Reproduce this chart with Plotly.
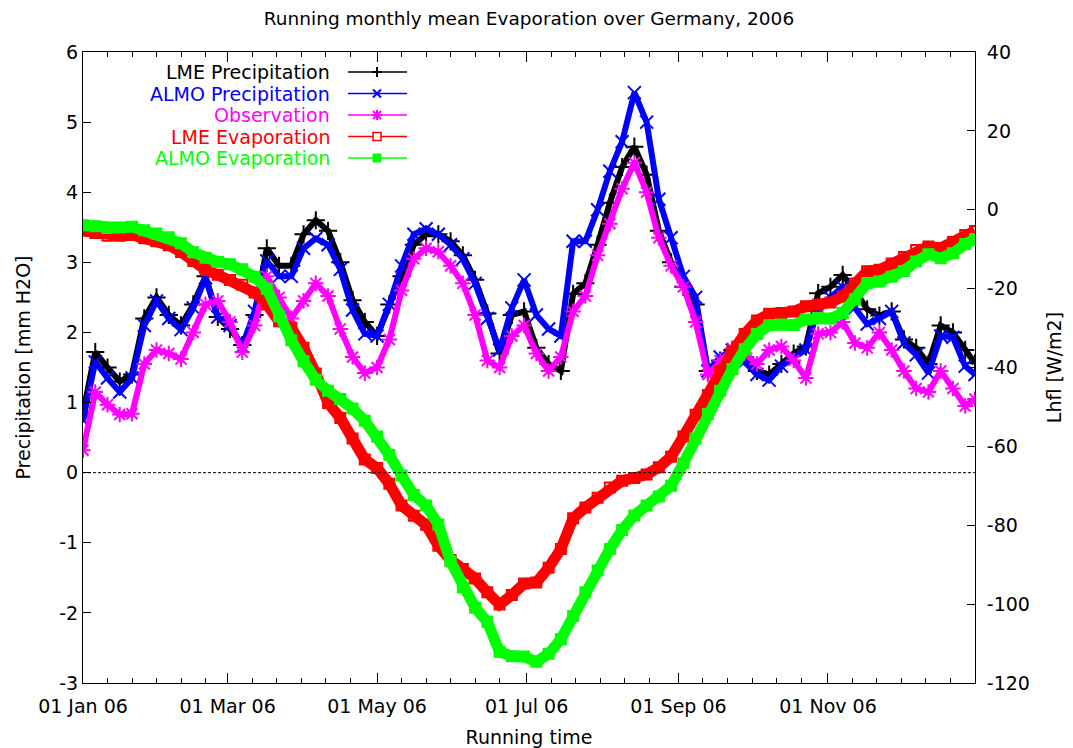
import pandas as pd
import plotly.graph_objects as go

# Running monthly means, sampled every 5 days from 01 Jan 2006 (last point 31 Dec)
day_offsets = list(range(0, 361, 5)) + [364]

# precipitation [mm H2O], left axis
lme_precip = [
    0.85, 1.72, 1.50, 1.30, 1.40, 2.20, 2.50, 2.25, 2.10, 2.40,
    2.80, 2.22, 2.05, 1.82, 2.25, 3.20, 2.95, 2.95, 3.40, 3.60,
    3.45, 3.00, 2.46, 2.15, 1.95, 2.40, 2.80, 3.25, 3.40, 3.40,
    3.30, 3.10, 2.75, 2.27, 1.70, 2.25, 2.30, 1.78, 1.55, 1.45,
    2.55, 2.70, 3.25, 3.85, 4.36, 4.65, 4.25, 3.45, 3.00, 2.65,
    2.40, 1.45, 1.60, 1.75, 1.65, 1.45, 1.40, 1.55, 1.70, 1.80,
    2.56, 2.65, 2.82, 2.60, 2.33, 2.24, 2.30, 1.90, 1.78, 1.55,
    2.10, 2.00, 1.75, 1.56,
]
almo_precip = [
    0.75, 1.58, 1.35, 1.15, 1.35, 2.10, 2.45, 2.20, 2.04, 2.35,
    2.78, 2.22, 2.10, 1.80, 2.30, 3.02, 2.80, 2.80, 3.20, 3.34,
    3.25, 2.90, 2.32, 1.98, 1.95, 2.40, 2.95, 3.40, 3.48, 3.40,
    3.25, 3.05, 2.70, 2.20, 1.75, 2.35, 2.75, 2.25, 2.05, 1.95,
    3.30, 3.30, 3.75, 4.30, 4.72, 5.42, 5.00, 3.90, 3.35, 2.80,
    2.50, 1.45, 1.65, 1.75, 1.58, 1.40, 1.32, 1.52, 1.65, 1.75,
    2.35, 2.50, 2.65, 2.35, 2.12, 2.20, 2.30, 1.85, 1.68, 1.42,
    1.95, 1.93, 1.52, 1.40,
]
observation = [
    0.32, 1.15, 0.97, 0.83, 0.84, 1.55, 1.75, 1.70, 1.62, 2.00,
    2.40, 2.45, 2.15, 1.72, 2.10, 2.80, 2.50, 2.20, 2.45, 2.70,
    2.52, 2.05, 1.65, 1.42, 1.50, 1.90, 2.60, 3.05, 3.20, 3.15,
    2.95, 2.70, 2.25, 1.60, 1.50, 1.95, 2.10, 1.70, 1.45, 1.65,
    2.30, 2.52, 3.10, 3.55, 4.05, 4.42, 4.00, 3.35, 2.95, 2.65,
    2.15, 1.40, 1.60, 1.77, 1.70, 1.55, 1.75, 1.80, 1.60, 1.35,
    1.98, 2.00, 2.15, 1.85, 1.78, 2.00, 1.75, 1.45, 1.20, 1.15,
    1.45, 1.20, 0.95, 1.05,
]

# latent heat flux [W/m2], right axis
lme_evap = [
    -5.3, -5.9, -6.6, -6.6, -6.4, -7.2, -8.0, -9.0, -10.7, -13.0,
    -15.2, -16.5, -17.8, -19.0, -21.0, -24.0, -28.3, -29.9, -35.0, -41.5,
    -49.0, -52.8, -58.0, -63.3, -65.5, -69.5, -75.0, -77.6, -79.9, -85.2,
    -88.8, -91.1, -93.5, -97.0, -100.1, -97.7, -94.8, -94.5, -90.8, -86.0,
    -78.2, -75.5, -73.0, -70.4, -68.7, -68.0, -67.1, -65.3, -62.6, -57.5,
    -52.0, -47.0, -41.0, -36.0, -31.5, -28.1, -26.4, -26.2, -25.8, -24.5,
    -24.0, -23.5, -22.0, -18.7, -15.6, -15.2, -13.6, -12.0, -10.2, -9.3,
    -9.7, -8.2, -6.4, -5.4,
]
almo_evap = [
    -3.9, -4.2, -4.6, -4.5, -4.3, -5.2, -6.0, -7.0, -8.5, -10.8,
    -12.2, -13.2, -13.8, -15.1, -17.0, -20.0, -27.0, -33.1, -38.4, -43.1,
    -45.9, -48.0, -50.4, -53.5, -57.5, -62.2, -67.4, -72.3, -75.0, -79.8,
    -89.2, -95.7, -100.9, -104.5, -112.1, -113.2, -113.3, -114.6, -112.6, -108.9,
    -103.0, -97.0, -91.5, -86.0, -81.2, -77.5, -75.0, -72.7, -70.0, -64.3,
    -58.0, -51.8, -45.9, -40.4, -35.4, -31.5, -29.3, -29.1, -29.2, -27.8,
    -27.4, -27.6, -26.2, -22.7, -18.6, -18.2, -17.0, -15.5, -13.1, -11.3,
    -12.3, -11.0, -8.7, -7.4,
]

left_ticks = [-3, -2, -1, 0, 1, 2, 3, 4, 5, 6]
right_ticks = [-120, -100, -80, -60, -40, -20, 0, 20, 40]

dates = pd.Timestamp("2006-01-01") + pd.to_timedelta(day_offsets, unit="D")

major_ticks = pd.date_range("2006-01-01", periods=6, freq="2MS")
minor_ticks = [m + pd.Timedelta(days=10 * k) for m in major_ticks for k in range(1, 6)]

FONT = "DejaVu Sans"

series = [
    # name, values, colour, marker symbol, axis, line width, marker size
    ("LME Precipitation", lme_precip, "#000000", "cross-thin", "y", 6, 13),
    ("ALMO Precipitation", almo_precip, "#0000ff", "x-thin", "y", 6, 13),
    ("Observation", observation, "#ff00ff", "asterisk", "y", 6, 13),
    ("LME Evaporation", lme_evap, "#ff0000", "square-open", "y2", 11, 10),
    ("ALMO Evaporation", almo_evap, "#00ff00", "square", "y2", 11, 10),
]

fig = go.Figure()
for name, vals, col, sym, ax, lw, ms in series:
    fig.add_trace(go.Scatter(
        x=dates, y=vals, name=name, yaxis=ax,
        mode="lines+markers",
        line=dict(color=col, width=lw),
        marker=dict(symbol=sym, size=ms, color=col, line=dict(color=col, width=2)),
        showlegend=False,
    ))

# the page body adds an 8px offset; plot box below is in page pixels
OFF = 8
W, H = 1073 - OFF, 748 - OFF
L, R, T, B = 83, 975, 52, 683

def px(x):
    return (x - L) / (R - L)

def py(y):
    return (B - y) / (B - T)

def glyph(kind, col, xa, ya):
    base = dict(xref="paper", yref="paper", xsizemode="pixel", ysizemode="pixel",
                xanchor=xa, yanchor=ya)
    ln = dict(color=col, width=2)
    out = []
    if kind in ("plus", "star"):
        out.append(dict(type="line", x0=-5, x1=5, y0=0, y1=0, line=ln, **base))
        out.append(dict(type="line", x0=0, x1=0, y0=-5, y1=5, line=ln, **base))
    if kind in ("x", "star"):
        out.append(dict(type="line", x0=-4, x1=4, y0=-4, y1=4, line=ln, **base))
        out.append(dict(type="line", x0=-4, x1=4, y0=4, y1=-4, line=ln, **base))
    if kind == "sq_open":
        out.append(dict(type="rect", x0=-4, x1=4, y0=-4, y1=4, line=dict(color=col, width=1.5),
                        fillcolor="white", **base))
    if kind == "sq_fill":
        out.append(dict(type="rect", x0=-4, x1=4, y0=-4, y1=4, line=dict(color=col, width=1),
                        fillcolor=col, **base))
    return out

key_kinds = ["plus", "x", "star", "sq_open", "sq_fill"]
key_rows = [72, 93.5, 115, 136.5, 158]

shapes = [dict(type="line", xref="paper", x0=0, x1=1, yref="y", y0=0, y1=0,
               line=dict(color="#000000", width=1, dash="3px,2px"))]
annotations = []
for (name, _, col, _, _, _, _), kind, ry in zip(series, key_kinds, key_rows):
    annotations.append(dict(text=name, xref="paper", yref="paper", x=px(332), y=py(ry),
                            xanchor="right", yanchor="middle", showarrow=False,
                            font=dict(family=FONT, size=19, color=col)))
    shapes.append(dict(type="line", xref="paper", yref="paper", x0=px(348), x1=px(407),
                       y0=py(ry), y1=py(ry), line=dict(color=col, width=1.5)))
    shapes += glyph(kind, col, px(377), py(ry))

axis_common = dict(
    showline=True, linecolor="#000000", linewidth=1,
    ticks="inside", tickcolor="#000000", tickwidth=1,
    showgrid=False, zeroline=False, automargin=False,
    tickfont=dict(family=FONT, size=19, color="#000000"),
)

fig.update_layout(
    width=W, height=H,
    margin=dict(l=L - OFF, r=W - (R - OFF), t=T - OFF, b=H - (B - OFF)),
    paper_bgcolor="white", plot_bgcolor="white",
    title=dict(text="Running monthly mean Evaporation over Germany, 2006",
               x=0.5, xref="paper", xanchor="center",
               y=1 - (19 - OFF) / H, yref="container", yanchor="middle",
               font=dict(family=FONT, size=18.5, color="#000000")),
    xaxis=dict(
        type="date", range=["2006-01-01", "2006-12-31"],
        tickmode="array", tickvals=major_ticks, tickformat="%d %b %y",
        ticklen=10, mirror="ticks", ticklabelstandoff=6,
        minor=dict(tickmode="array", tickvals=minor_ticks, ticks="inside",
                   ticklen=5, tickcolor="#000000", showgrid=False),
        title=dict(text="Running time", font=dict(family=FONT, size=19, color="#000000"),
                   standoff=14),
        **axis_common,
    ),
    yaxis=dict(
        range=[-3, 6], tickmode="array", tickvals=left_ticks,
        ticktext=[str(v) for v in left_ticks], ticklen=8,
        title=dict(text="Precipitation [mm H2O]",
                   font=dict(family=FONT, size=19, color="#000000"), standoff=23),
        **axis_common,
    ),
    yaxis2=dict(
        range=[-120, 40], tickmode="array", tickvals=right_ticks,
        ticktext=[str(v) for v in right_ticks], ticklen=8,
        overlaying="y", side="right", ticklabelstandoff=7,
        title=dict(text="Lhfl [W/m2]",
                   font=dict(family=FONT, size=19, color="#000000"), standoff=18),
        **axis_common,
    ),
    shapes=shapes,
    annotations=annotations,
    showlegend=False,
)

fig.write_html("out.html")
